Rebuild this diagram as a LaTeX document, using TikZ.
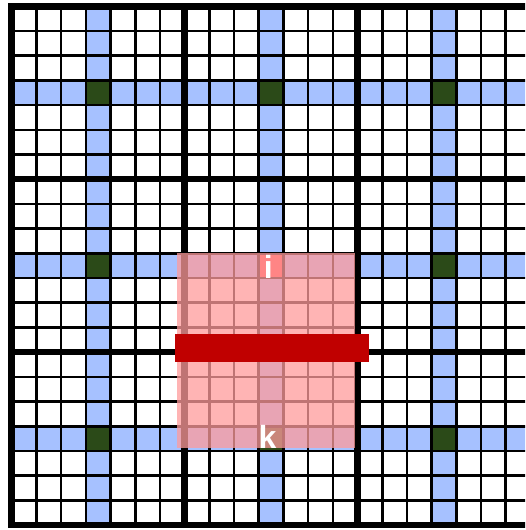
\documentclass[tikz,border=0pt]{standalone}
\usepackage{fontspec}
\setmainfont{Liberation Sans}
\definecolor{cellblue}{RGB}{166,193,255}
\definecolor{centergreen}{RGB}{43,74,24}
\definecolor{overlaypink}{RGB}{255,155,155}
\definecolor{barred}{RGB}{192,0,0}
\definecolor{hotcell}{RGB}{255,70,70}
\begin{document}
\begin{tikzpicture}[x=1pt,y=-1pt,
  thinline/.style={line width=2.6pt,black},
  thickline/.style={line width=6.5pt,black},
  lbl/.style={text=white,font=\fontsize{32}{32}\selectfont\bfseries,inner sep=0pt,anchor=base}]
\def\XO{11.7}\def\YO{6.3}\def\C{24.7}
\useasboundingbox (0,0) rectangle (525,530);
\fill[white] (0,0) rectangle (525,530);
\begin{scope}
\clip (0,0) rectangle (525,530);
% blue strips
\foreach \b in {0,1,2} {
  \fill[cellblue] ({\XO+(7*\b+3)*\C},\YO) rectangle ({\XO+(7*\b+4)*\C},{\YO+21*\C});
  \fill[cellblue] (\XO,{\YO+(7*\b+3)*\C}) rectangle ({\XO+21*\C},{\YO+(7*\b+4)*\C});
}
% dark centres
\foreach \bx in {0,1,2} \foreach \by in {0,1,2} {
  \fill[centergreen] ({\XO+(7*\bx+3)*\C},{\YO+(7*\by+3)*\C}) rectangle ({\XO+(7*\bx+4)*\C},{\YO+(7*\by+4)*\C});
}
% highlighted cell i
\fill[hotcell] ({\XO+10*\C},{\YO+10*\C}) rectangle ({\XO+11*\C},{\YO+11*\C});
% thin grid lines
\foreach \i in {1,...,20} {
  \pgfmathtruncatemacro\m{mod(\i,7)}
  \ifnum\m=0\else
    \draw[thinline] ({\XO+\i*\C},\YO) -- ({\XO+\i*\C},{\YO+21*\C});
    \draw[thinline] (\XO,{\YO+\i*\C}) -- ({\XO+21*\C},{\YO+\i*\C});
  \fi
}
% thick block lines
\foreach \i in {0,7,14,21} {
  \draw[thickline] ({\XO+\i*\C},{\YO-3.25}) -- ({\XO+\i*\C},{\YO+21*\C+3.25});
  \draw[thickline] ({\XO-3.25},{\YO+\i*\C}) -- ({\XO+21*\C+3.25},{\YO+\i*\C});
}
\end{scope}
% overlay
\fill[overlaypink,opacity=0.75] (177,253) rectangle (354.5,448);
\fill[barred] (175,334) rectangle (369,362);
\node[lbl] (labeli) at (268.3,278) {i};
\node[lbl] (labelk) at (267.5,448) {k};
\end{tikzpicture}
\end{document}
